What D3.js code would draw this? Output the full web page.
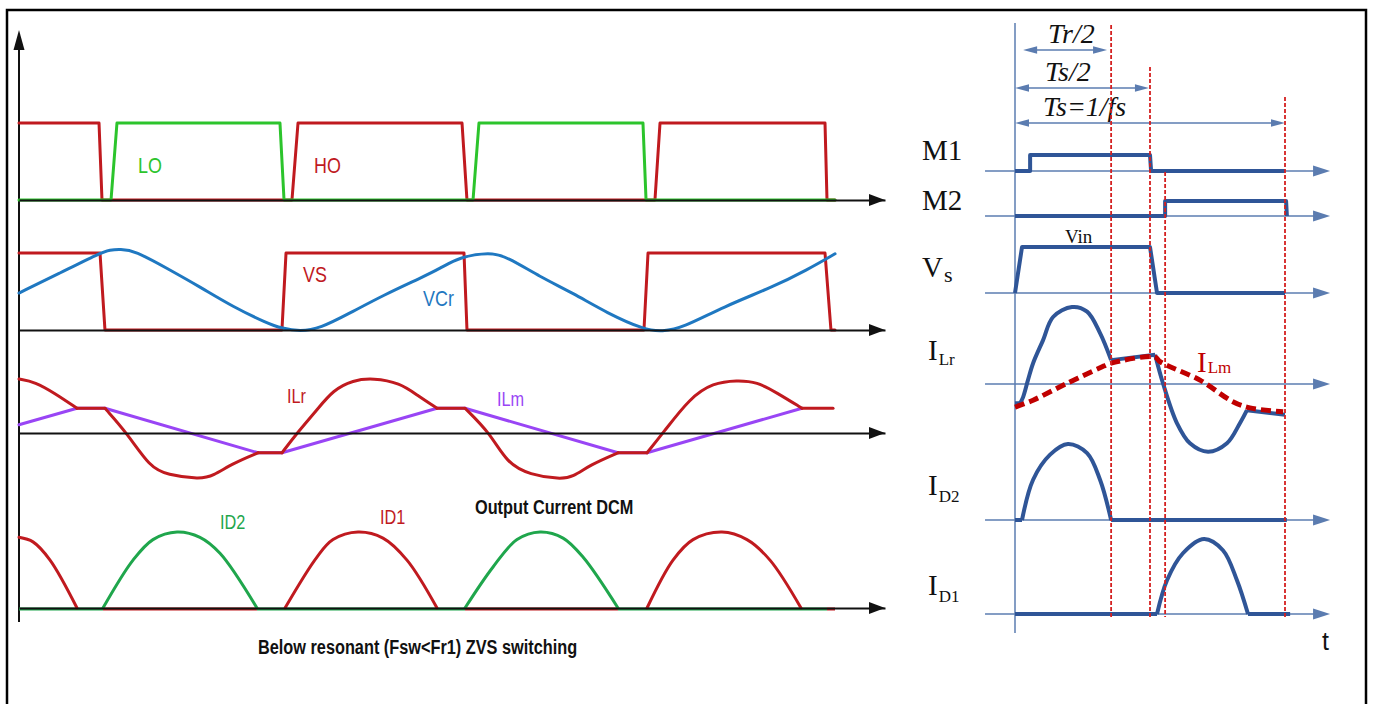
<!DOCTYPE html>
<html>
<head>
<meta charset="utf-8">
<script src="https://cdn.jsdelivr.net/npm/d3@7"></script>
<style>
body { margin: 0; background: #fff; }
.nar { font-family: "Liberation Sans", Arial, sans-serif; }
.ser { font-family: "Liberation Serif", "Times New Roman", serif; }
</style>
</head>
<body>
<script>
// ---- left panel: time in arbitrary units (one switching period ~ 40) ----
var hoWave = [[0,1],[8.87,1],[9.20,0],[30.26,0],[30.93,1],[49.11,1],[49.66,0],[70.50,0],[71.06,1],[89.35,1],[89.57,0],[90.46,0]];
var loWave = [[0,0],[10.20,0],[10.86,1],[28.93,1],[29.38,0],[50.33,0],[50.99,1],[69.17,1],[69.51,0],[90.46,0]];
var vsWave = [[0,1],[8.98,1],[9.53,0],[29.15,0],[29.60,1],[49.33,1],[49.66,0],[69.28,0],[69.73,1],[89.35,1],[90.01,0],[90.46,0]];
var vcrWave = [[0,0.48],[4.55,0.74],[8.98,1.0],[10.09,1.04],[11.20,1.05],[12.86,1.03],[16.41,0.8],[20.06,0.56],[23.72,0.3],[27.49,0.09],[29.15,0.02],[31.15,-0.02],[33.37,0.02],[36.69,0.22],[40.35,0.45],[44.79,0.69],[46.67,0.8],[48.89,0.95],[52.21,1.01],[54.10,0.95],[57.76,0.69],[61.41,0.48],[65.18,0.22],[69.39,0],[71.28,-0.02],[73.61,0.03],[78.04,0.3],[83.59,0.56],[87.35,0.78],[90.46,0.99]];
var ilrPieces = [
  [[0,0.98],[1.77,0.93],[3.99,0.72],[6.43,0.45]],
  [[6.43,0.45],[9.53,0.45]],
  [[9.53,0.45],[11.97,0],[14.52,-0.62],[16.41,-0.76],[20.06,-0.84],[21.51,-0.78],[23.72,-0.55],[26.49,-0.36]],
  [[26.49,-0.36],[29.15,-0.36]],
  [[29.15,-0.36],[30.82,0],[33.03,0.42],[34.81,0.78],[37.03,0.96],[39.24,1.0],[42.24,0.91],[44.12,0.69],[46.34,0.45]],
  [[46.34,0.45],[49.44,0.45]],
  [[49.44,0.45],[52.21,0],[54.10,-0.55],[56.65,-0.76],[59.97,-0.84],[61.41,-0.8],[63.30,-0.58],[66.40,-0.36]],
  [[66.40,-0.36],[69.62,-0.36]],
  [[69.62,-0.36],[71.39,0],[74.38,0.64],[76.93,0.91],[79.59,0.96],[81.81,0.93],[84.03,0.73],[86.80,0.45]],
  [[86.80,0.45],[90.24,0.45]]
];
var ilmWave = [[0,0.15],[6.43,0.45],[9.53,0.45],[26.49,-0.36],[29.15,-0.36],[46.34,0.45],[49.44,0.45],[66.40,-0.36],[69.62,-0.36],[86.80,0.45]];
var id1Pulses = [
  [[0,0.93],[1.55,0.87],[3.44,0.63],[6.43,0]],
  [[29.49,0],[33.03,0.67],[34.81,0.9],[37.58,1.0],[40.35,0.92],[43.01,0.63],[46.34,0]],
  [[69.62,0],[72.50,0.63],[74.72,0.9],[77.93,1.0],[80.70,0.9],[83.25,0.63],[86.69,0]]
];
var id2Pulses = [
  [[9.31,0],[12.64,0.63],[14.85,0.9],[17.52,1.0],[20.06,0.93],[22.28,0.72],[26.38,0]],
  [[49.44,0],[52.55,0.54],[55.21,0.9],[57.76,1.0],[60.31,0.92],[62.52,0.67],[66.40,0]]
];
var id1Off = [[9.31,26.38],[49.44,66.40],[89.57,90.46]];
var id2Off = [[0,9.31],[26.38,49.44],[66.40,89.57]];

// ---- right panel: time as a fraction of Ts ----
var m1Wave = [[0,0],[0.056,0],[0.056,1],[0.5,1],[0.504,0],[1.0,0]];
var m2Wave = [[0,0],[0.556,0],[0.556,1],[1.004,1],[1.007,0]];
var vsRWave = [[0,0],[0.026,1],[0.5,1],[0.526,0],[1.0,0]];
var ilrRPieces = [
  [[0,-0.25],[0.019,-0.25]],
  [[0.019,-0.25],[0.03,-0.17],[0.048,0.05],[0.067,0.27],[0.104,0.57],[0.141,0.87],[0.211,1.0],[0.267,0.94],[0.315,0.66],[0.356,0.31]],
  [[0.356,0.31],[0.519,0.38]],
  [[0.519,0.38],[0.548,0.01],[0.6,-0.51],[0.648,-0.77],[0.715,-0.88],[0.785,-0.77],[0.833,-0.51],[0.859,-0.34]],
  [[0.859,-0.34],[1.0,-0.4]]
];
var ilmRWave = [[0,-0.30],[0.067,-0.21],[0.193,0.01],[0.315,0.21],[0.356,0.27],[0.519,0.35],[0.537,0.29],[0.685,0.05],[0.807,-0.23],[0.87,-0.31],[0.993,-0.36]];
var id2RPieces = [
  [[0,0],[0.026,0]],
  [[0.026,0],[0.067,0.53],[0.13,0.86],[0.196,1.0],[0.267,0.88],[0.315,0.53],[0.356,0]],
  [[0.356,0],[1.007,0]]
];
var id1RPieces = [
  [[0,0],[0.526,0]],
  [[0.526,0],[0.563,0.45],[0.622,0.81],[0.7,1.0],[0.77,0.85],[0.822,0.45],[0.863,0]],
  [[0.863,0],[1.019,0]]
];
var markerTimes = [0.356, 0.5, 0.556, 1.0];
var dims = [["Tr/2", 0.03, 0.341], ["Ts/2", 0, 0.496], ["Ts=1/fs", 0, 1.0]];

var red = "#c01a1f", green = "#2cc42c", green2 = "#1fa64c", blue = "#1f78c1", purple = "#9945f5";
var navy = "#2f5597", axisBlue = "#5b7cb0";
var smooth = d3.curveCatmullRom.alpha(0.5);

var svg = d3.select("body").append("svg")
    .attr("width", 1373)
    .attr("height", 704);

svg.append("rect")
    .attr("x", 7).attr("y", 10)
    .attr("width", 1359).attr("height", 720)
    .attr("fill", "none").attr("stroke", "#000").attr("stroke-width", 2.5);

function head(g, x, y, dir, len, half, color) {
    var p;
    if (dir == "right") p = [[x, y], [x - len, y - half], [x - len, y + half]];
    else if (dir == "left") p = [[x, y], [x + len, y - half], [x + len, y + half]];
    else p = [[x, y], [x - half, y + len], [x + half, y + len]];
    g.append("path").attr("d", "M" + p.join("L") + "Z").attr("fill", color);
}

// ================= left panel =================
var xL = d3.scaleLinear().domain([0, 96]).range([19, 885]);
var yGate = d3.scaleLinear().domain([0, 1]).range([200, 123]);
var yVsw = d3.scaleLinear().domain([0, 1]).range([330, 253]);
var yCur = d3.scaleLinear().domain([-1, 1]).range([488, 378]);
var yDio = d3.scaleLinear().domain([0, 1]).range([608, 532]);

function lineL(ys, curve) {
    return d3.line()
        .x(function(d) { return xL(d[0]); })
        .y(function(d) { return ys(d[1]); })
        .curve(curve);
}

var left = svg.append("g");

// vertical axis
left.append("line")
    .attr("x1", xL(0)).attr("x2", xL(0))
    .attr("y1", 622).attr("y2", 46)
    .attr("stroke", "#111").attr("stroke-width", 2);
head(left, xL(0), 30, "up", 20, 5.5, "#111");

function strokeIt(sel, color, w) {
    return sel.attr("fill", "none").attr("stroke", color).attr("stroke-width", w)
        .attr("stroke-linejoin", "round").attr("stroke-linecap", "round");
}

// row 1: HO / LO
strokeIt(left.append("path").datum(hoWave).attr("d", lineL(yGate, d3.curveLinear)), red, 3);
strokeIt(left.append("path").datum(loWave).attr("d", lineL(yGate, d3.curveLinear)), green, 3);

// row 2: VS / VCr
strokeIt(left.append("path").datum(vsWave).attr("d", lineL(yVsw, d3.curveLinear)), red, 3);
strokeIt(left.append("path").datum(vcrWave).attr("d", lineL(yVsw, d3.curveBasis)), blue, 3);

// row 3: ILm / ILr
strokeIt(left.append("path").datum(ilmWave).attr("d", lineL(yCur, d3.curveLinear)), purple, 3);
left.append("g").selectAll("path")
    .data(ilrPieces)
    .enter().append("path")
    .attr("d", lineL(yCur, d3.curveBasis))
    .call(strokeIt, red, 3);

// row 4: diode currents
left.append("g").selectAll("line")
    .data(id1Off)
    .enter().append("line")
    .attr("x1", function(d) { return xL(d[0]); })
    .attr("x2", function(d) { return xL(d[1]); })
    .attr("y1", yDio(0) + 1).attr("y2", yDio(0) + 1)
    .attr("stroke", red).attr("stroke-width", 3);
left.append("g").selectAll("line")
    .data(id2Off)
    .enter().append("line")
    .attr("x1", function(d) { return xL(d[0]); })
    .attr("x2", function(d) { return xL(d[1]); })
    .attr("y1", yDio(0) + 1).attr("y2", yDio(0) + 1)
    .attr("stroke", green2).attr("stroke-width", 3);
left.append("g").selectAll("path")
    .data(id1Pulses)
    .enter().append("path")
    .attr("d", lineL(yDio, smooth))
    .call(strokeIt, red, 3);
left.append("g").selectAll("path")
    .data(id2Pulses)
    .enter().append("path")
    .attr("d", lineL(yDio, smooth))
    .call(strokeIt, green2, 3);

// horizontal time axes of each row
[yGate(0), yVsw(0), yCur(0), yDio(0)].forEach(function(y) {
    var ax = left.append("g")
        .attr("transform", "translate(0," + y + ")")
        .call(d3.axisBottom(xL).tickValues([]).tickSizeOuter(0));
    ax.select(".domain").attr("stroke", "#111").attr("stroke-width", 1.8);
    head(left, xL(96), y, "right", 16, 6, "#111");
});

// narrow sans labels: [text, x, baseline, colour, size, weight]
var leftLabels = [
    ["LO", 138, 173, green, 22, "normal"],
    ["HO", 314, 173, red, 22, "normal"],
    ["VS", 303, 282, red, 22, "normal"],
    ["VCr", 423, 306, blue, 22, "normal"],
    ["ILr", 287, 403, red, 20, "normal"],
    ["ILm", 497, 406, purple, 20, "normal"],
    ["ID2", 220, 529, green2, 20, "normal"],
    ["ID1", 380, 524, red, 20, "normal"],
    ["Output Current DCM", 475, 514, "#111", 20, "bold"],
    ["Below resonant (Fsw<Fr1) ZVS switching", 258, 654, "#111", 20, "bold"]
];
left.append("g").selectAll("text")
    .data(leftLabels)
    .enter().append("text")
    .attr("class", "nar")
    .attr("transform", function(d) { return "translate(" + d[1] + "," + d[2] + ") scale(0.815,1)"; })
    .attr("fill", function(d) { return d[3]; })
    .attr("font-size", function(d) { return d[4]; })
    .attr("font-weight", function(d) { return d[5]; })
    .text(function(d) { return d[0]; });

// ================= right panel =================
var xR = d3.scaleLinear().domain([0, 1]).range([1015, 1285]);
var yM1 = d3.scaleLinear().domain([0, 1]).range([171, 155]);
var yM2 = d3.scaleLinear().domain([0, 1]).range([216, 201]);
var yVs = d3.scaleLinear().domain([0, 1]).range([293, 247]);
var yIl = d3.scaleLinear().domain([-1, 1]).range([461, 307]);
var yD2 = d3.scaleLinear().domain([0, 1]).range([520, 444]);
var yD1 = d3.scaleLinear().domain([0, 1]).range([614, 539]);

function lineR(ys, curve) {
    return d3.line()
        .x(function(d) { return xR(d[0]); })
        .y(function(d) { return ys(d[1]); })
        .curve(curve);
}

var right = svg.append("g");

right.append("line")
    .attr("x1", xR(0)).attr("x2", xR(0))
    .attr("y1", 23).attr("y2", 633)
    .attr("stroke", axisBlue).attr("stroke-width", 1.5);

[yM1(0), yM2(0), yVs(0), yIl(0), yD2(0), yD1(0)].forEach(function(y) {
    right.append("line")
        .attr("x1", xR(-0.111)).attr("x2", xR(1.167) - 14)
        .attr("y1", y).attr("y2", y)
        .attr("stroke", axisBlue).attr("stroke-width", 1.5);
    head(right, xR(1.167), y, "right", 17, 5.5, axisBlue);
});

// dimension arrows
var dimY = [50, 88, 123];
dims.forEach(function(d, i) {
    var y = dimY[i];
    right.append("line")
        .attr("x1", xR(d[1]) + 8).attr("x2", xR(d[2]) - 8)
        .attr("y1", y).attr("y2", y)
        .attr("stroke", axisBlue).attr("stroke-width", 1.5);
    head(right, xR(d[1]), y, "left", 14, 3.8, axisBlue);
    head(right, xR(d[2]), y, "right", 14, 3.8, axisBlue);
});
var dimTextX = [1048, 1045, 1043], dimTextY = [43, 81, 116];
dims.forEach(function(d, i) {
    right.append("text").attr("class", "ser")
        .attr("x", dimTextX[i]).attr("y", dimTextY[i])
        .attr("font-size", 28).attr("font-style", "italic")
        .attr("fill", "#111")
        .text(d[0]);
});

function strokeR(sel, color, w) {
    return sel.attr("fill", "none").attr("stroke", color).attr("stroke-width", w)
        .attr("stroke-linejoin", "round");
}

strokeR(right.append("path").datum(m1Wave).attr("d", lineR(yM1, d3.curveLinear)), navy, 4);
strokeR(right.append("path").datum(m2Wave).attr("d", lineR(yM2, d3.curveLinear)), navy, 4);
strokeR(right.append("path").datum(vsRWave).attr("d", lineR(yVs, d3.curveLinear)), navy, 4);
right.append("g").selectAll("path")
    .data(ilrRPieces)
    .enter().append("path")
    .attr("d", lineR(yIl, smooth))
    .call(strokeR, navy, 4);
right.append("path")
    .datum(ilmRWave)
    .attr("d", lineR(yIl, smooth))
    .attr("fill", "none").attr("stroke", "#c00000").attr("stroke-width", 5)
    .attr("stroke-dasharray", "10,5");
right.append("g").selectAll("path")
    .data(id2RPieces)
    .enter().append("path")
    .attr("d", lineR(yD2, smooth))
    .call(strokeR, navy, 4);
right.append("g").selectAll("path")
    .data(id1RPieces)
    .enter().append("path")
    .attr("d", lineR(yD1, smooth))
    .call(strokeR, navy, 4);

var markerTop = [25, 67, 172, 97];
right.append("g").selectAll("line")
    .data(markerTimes)
    .enter().append("line")
    .attr("x1", function(d) { return xR(d); })
    .attr("x2", function(d) { return xR(d); })
    .attr("y1", function(d, i) { return markerTop[i]; })
    .attr("y2", 617)
    .attr("stroke", "#d42020").attr("stroke-width", 1.8)
    .attr("stroke-dasharray", "4,2");

right.append("text").attr("class", "ser")
    .attr("x", 1065).attr("y", 243).attr("font-size", 19).attr("fill", "#111")
    .text("Vin");

// signal names with subscripts: [main, sub, x, y, sub size, sub drop, colour]
var sigLabels = [
    ["M1", "", 922, 160, 0, 0, "#111"],
    ["M2", "", 922, 210, 0, 0, "#111"],
    ["V", "s", 922, 277, 22, 5, "#111"],
    ["I", "Lr", 928, 360, 17, 5, "#111"],
    ["I", "D2", 928, 495, 17, 7, "#111"],
    ["I", "D1", 928, 595, 17, 7, "#111"],
    ["I", "Lm", 1197, 372, 17, 1, "#c00000"]
];
sigLabels.forEach(function(d) {
    var t = right.append("text").attr("class", "ser")
        .attr("x", d[2]).attr("y", d[3])
        .attr("font-size", 29).attr("fill", d[6]);
    t.append("tspan").text(d[0]);
    if (d[1]) t.append("tspan").attr("dy", d[5]).attr("dx", 1).attr("font-size", d[4]).text(d[1]);
});

right.append("text")
    .attr("x", 1322).attr("y", 650)
    .attr("font-family", "Liberation Sans, sans-serif")
    .attr("font-size", 25).attr("fill", "#111")
    .text("t");
</script>
</body>
</html>
